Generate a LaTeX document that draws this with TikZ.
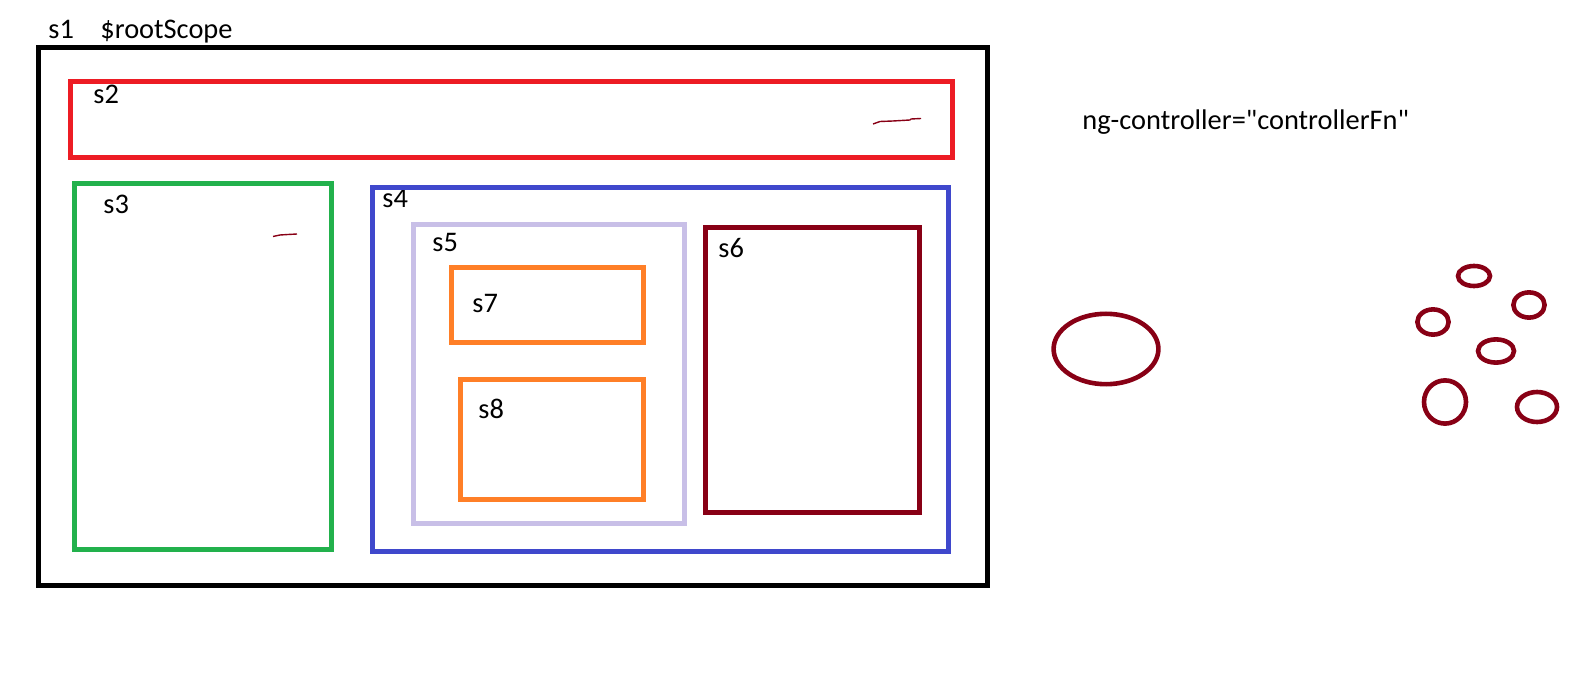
\documentclass[tikz,border=0pt]{standalone}
\usepackage{fontspec}
\setmainfont{Carlito}
\newfontfamily\plainfont{Carlito}
\usepackage{tikz}
\usetikzlibrary{
	positioning,
	calc
  }
\definecolor{pRed}{HTML}{ED1C24}
\definecolor{pGreen}{HTML}{22B14C}
\definecolor{pBlue}{HTML}{3F48CC}
\definecolor{pLav}{HTML}{C8BFE7}
\definecolor{pOrange}{HTML}{FF7F27}
\definecolor{pDark}{HTML}{880015}
\tikzstyle{scopebox}=[line width=2.5pt]
\tikzstyle{lab}=[inner sep=0pt,anchor=base west,font=\plainfont\fontsize{14.2}{17}\selectfont]
\tikzstyle{ctrl}=[draw=pDark,line width=2.3pt]
\tikzstyle{squig}=[draw=pDark,line width=0.7pt]

\begin{document}
\begin{tikzpicture}[x=0.5pt,y=-0.5pt]
	\useasboundingbox (0,0) rectangle (1588,683);
	\foreach \i/\px/\py in {1/48/39,2/93/104,3/103/214,4/382/208,5/432/252,6/718/258,7/472/313,8/478/419} {
		\node[lab] at (\px,\py) (S\i) {s\i};
	}
	\node[lab] at (100,39) (root) {\$rootScope};
	\node[lab] at (1082,130) (ngc) {ng-controller="controllerFn"};
%
	\draw[scopebox,draw=black]   (38.5,47.5) rectangle (987,585);
	\draw[scopebox,draw=pRed]    (70,81.5) rectangle (952,158);
	\draw[scopebox,draw=pGreen]  (74,183.5) rectangle (331,549);
	\draw[scopebox,draw=pBlue]   (372.5,187.5) rectangle (948,551);
	\draw[scopebox,draw=pLav]    (413,224.5) rectangle (684.5,523.5);
	\draw[scopebox,draw=pOrange] (451.5,267.5) rectangle (643,343);
	\draw[scopebox,draw=pOrange] (460,380) rectangle (643,499);
	\draw[scopebox,draw=pDark]   (705,228) rectangle (919.5,512.5);
%
	\draw[squig] (873,124) -- (880,121.5) -- (893,121) -- (910,120) -- (911,119) -- (921,118.5);
	\draw[squig] (273,236.5) -- (280,235) -- (288,234.5) -- (297,234);
%
	\draw[ctrl] (1106,349) ellipse (26.2pt and 17.6pt);
	\foreach \cx/\cy/\rx/\ry in {1474/276/8/5, 1529/305/7.8/6.3, 1433/322/7.8/6.3, 1496/351/9/5.8, 1445/402/10.5/10.8, 1537/407/10/7.5} {
		\draw[ctrl] (\cx,\cy) ellipse (\rx pt and \ry pt);
	}
\end{tikzpicture}
\end{document}
